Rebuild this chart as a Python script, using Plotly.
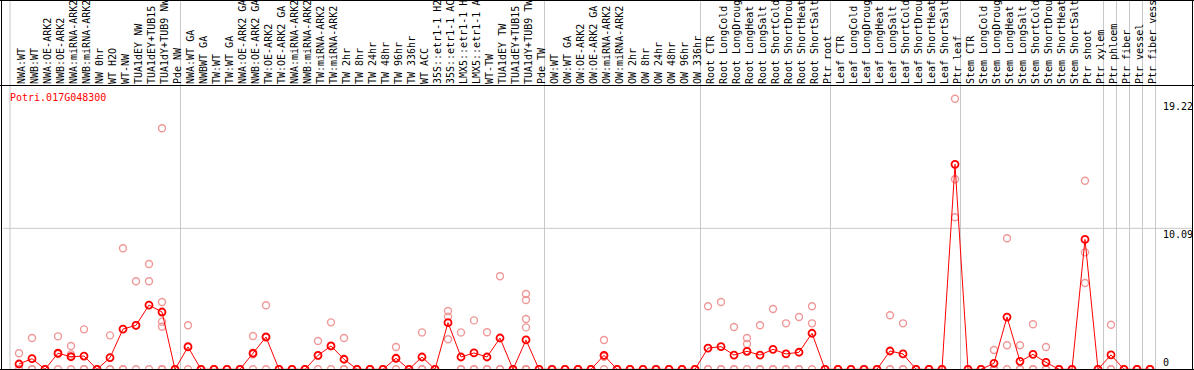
import plotly.graph_objects as go

labels = [
    "NWA:WT", "NWB:WT", "NWA:OE-ARK2", "NWB:OE-ARK2", "NWA:miRNA-ARK2", "NWB:miRNA-ARK2",
    "NW 0hr", "WT H2O", "WT-NW", "TUA1dEY NW", "TUA1dEY+TUB15 NW", "TUA1dY+TUB9 NW", "Pde NW",
    "NWA:WT GA", "NWBWT GA", "TW:WT", "TW:WT GA", "NWA:OE-ARK2 GA", "NWB:OE-ARK2 GA",
    "TW:OE-ARK2", "TW:OE-ARK2 GA", "NWA:miRNA-ARK2", "NWB:miRNA-ARK2", "TW:miRNA-ARK2",
    "TW:miRNA-ARK2", "TW 2hr", "TW 8hr", "TW 24hr", "TW 48hr", "TW 96hr", "TW 336hr",
    "WT ACC", "35S::etr1-1 H2O", "35S::etr1-1 ACC", "LMX5::etr1-1 H2O", "LMX5::etr1-1 ACC",
    "WT-TW", "TUA1dEY TW", "TUA1dEY+TUB15 TW", "TUA1dY+TUB9 TW", "Pde TW",
    "OW:WT", "OW:WT GA", "OW:OE-ARK2", "OW:OE-ARK2 GA", "OW:miRNA-ARK2", "OW:miRNA-ARK2",
    "OW 2hr", "OW 8hr", "OW 24hr", "OW 48hr", "OW 96hr", "OW 336hr",
    "Root CTR", "Root LongCold", "Root LongDrought", "Root LongHeat", "Root LongSalt",
    "Root ShortCold", "Root ShortDrought", "Root ShortHeat", "Root ShortSalt", "Ptr root",
    "Leaf CTR", "Leaf LongCold", "Leaf LongDrought", "Leaf LongHeat", "Leaf LongSalt",
    "Leaf ShortCold", "Leaf ShortDrought", "Leaf ShortHeat", "Leaf ShortSalt", "Ptr leaf",
    "Stem CTR", "Stem LongCold", "Stem LongDrought", "Stem LongHeat", "Stem LongSalt",
    "Stem ShortCold", "Stem ShortDrought", "Stem ShortHeat", "Stem ShortSalt", "Ptr shoot",
    "Ptr xylem", "Ptr phloem", "Ptr fiber", "Ptr vessel", "Ptr fiber vessel",
]

mean_values = [
    0.38, 0.76, 0, 1.15, 0.90, 0.95, 0, 0.83, 2.88, 3.15, 4.60, 4.10, 0,
    1.60, 0, 0, 0, 0, 1.15, 2.31, 0, 0, 0, 1.00, 1.67, 0.72, 0, 0, 0, 0.79, 0,
    0.88, 0, 3.34, 0.88, 1.17, 0.88, 2.24, 0, 2.10, 0,
    0, 0, 0, 0, 1.00, 0, 0, 0, 0, 0, 0, 0,
    1.52, 1.62, 1.02, 1.29, 1.02, 1.43, 1.10, 1.22, 2.58, 0,
    0, 0, 0, 0, 1.31, 1.10, 0, 0, 0, 14.67,
    0, 0, 0.43, 3.74, 0.57, 1.07, 0.50, 0, 0, 9.30,
    0, 1.03, 0, 0, 0,
]

replicates = [
    [1.15, 0, 0], [2.24, 0, 0], [0, 0, 0], [2.36, 1.09, 0], [1.67, 1.07, 0], [2.86, 0, 0],
    [0, 0, 0], [2.43, 0, 0], [8.66, 0, 0], [6.30, 3.15, 0], [7.54, 6.30, 0],
    [17.25, 4.82, 3.41, 3.05, 0, 0, 0], [0, 0, 0],
    [3.15, 1.65, 0], [0, 0, 0], [0, 0, 0], [0, 0, 0], [0, 0, 0], [2.38, 1.07, 0],
    [4.58, 2.35, 0], [0, 0, 0], [0, 0, 0], [0, 0, 0], [2.03, 0.97, 0], [3.36, 1.65, 0],
    [2.24, 0, 0], [0, 0, 0], [0, 0, 0], [0, 0, 0], [1.60, 0.77, 0], [0, 0, 0],
    [2.64, 0, 0], [0, 0, 0], [4.17, 3.77, 2.15], [2.64, 0, 0], [3.50, 0, 0],
    [2.65, 0, 0], [6.66, 0, 0], [0, 0, 0], [5.39, 4.96, 3.60, 3.00, 0, 0, 0, 0], [0, 0, 0],
    [0, 0, 0], [0, 0, 0], [0, 0, 0], [0, 0, 0], [2.10, 0.90, 0], [0, 0, 0],
    [0, 0, 0], [0, 0, 0], [0, 0, 0], [0, 0, 0], [0, 0, 0], [0, 0, 0],
    [4.51, 0, 0], [4.82, 0, 0], [3.03, 0, 0], [2.24, 1.81, 0], [3.15, 0, 0],
    [4.32, 0, 0], [3.29, 0, 0], [3.74, 0, 0], [4.51, 3.29, 0], [0, 0, 0],
    [0, 0, 0], [0, 0, 0], [0, 0, 0], [0, 0, 0], [3.87, 0, 0], [3.29, 0, 0],
    [0, 0, 0], [0, 0, 0], [0, 0, 0], [19.37, 13.60, 10.88],
    [0, 0, 0], [0, 0, 0], [1.38, 0, 0], [9.38, 1.72, 0], [1.72, 0, 0], [3.22, 0, 0],
    [1.60, 0, 0], [0, 0, 0], [0, 0, 0], [13.50, 8.37, 6.18],
    [0, 0, 0], [3.19, 0, 0], [0, 0, 0], [0, 0, 0], [0, 0, 0],
]

# index of the last column of each separated block
block_ends = [12, 40, 52, 62, 72, 83, 84, 85, 86, 87]
y_ticks = [19.22, 10.09, 0]
y_tick_text = ["19.22", "10.09", "0"]
gene_id = "Potri.017G048300"

W, H = 1194, 370
TOP = 85
X0_PX, DX_PX = 19.0, 13.0
ZERO_PX, PX_PER_UNIT = 369.3, 13.97
LABEL_SHIFT = 2.5 / DX_PX  # visual centring of rotated glyphs

xmin = -X0_PX / DX_PX
xmax = (W - X0_PX) / DX_PX
ymax = (ZERO_PX - TOP) / PX_PER_UNIT
ymin = -(H - ZERO_PX) / PX_PER_UNIT

FONT = "DejaVu Sans Mono"
RED = "#FF0000"
PALE = "#F09898"
GRAY = "#C8C8C8"


def px_x(p):
    return p / W


def px_y(p):
    return (H - p) / (H - TOP)


rep_x = [i for i, reps in enumerate(replicates) for _ in reps]
rep_y = [v for reps in replicates for v in reps]
xs = list(range(len(labels)))

fig = go.Figure()
fig.add_trace(go.Scatter(
    x=rep_x, y=rep_y, mode="markers",
    marker=dict(symbol="circle-open", size=7, color=PALE, line=dict(width=1.4, color=PALE)),
    hoverinfo="skip", showlegend=False,
))
fig.add_trace(go.Scatter(
    x=xs, y=mean_values, mode="lines+markers",
    line=dict(color=RED, width=1),
    marker=dict(symbol="circle-open", size=7, color=RED, line=dict(width=1.8, color=RED)),
    showlegend=False,
))

shapes = []
top_paper = px_y(0)
# block separators
sep_px = [X0_PX - 9]
for e in block_ends:
    sep_px.append(X0_PX + DX_PX * e + 5.5)
for p in sep_px:
    shapes.append(dict(type="line", xref="paper", yref="paper", x0=px_x(p), x1=px_x(p),
                       y0=0, y1=top_paper, line=dict(color=GRAY, width=1), layer="below"))
# horizontal grid at middle tick
shapes.append(dict(type="line", xref="paper", yref="y", x0=px_x(3), x1=px_x(1192),
                   y0=y_ticks[1], y1=y_ticks[1], line=dict(color=GRAY, width=1), layer="below"))
# black frame
black = dict(color="black", width=1)
shapes += [
    dict(type="line", xref="paper", yref="paper", x0=0, x1=1, y0=px_y(0.5), y1=px_y(0.5), line=black),
    dict(type="line", xref="paper", yref="paper", x0=0, x1=1, y0=px_y(85.5), y1=px_y(85.5), line=black),
    dict(type="line", xref="paper", yref="paper", x0=0, x1=1, y0=px_y(369.5), y1=px_y(369.5), line=black),
    dict(type="line", xref="paper", yref="paper", x0=px_x(1.5), x1=px_x(1.5), y0=0, y1=top_paper, line=black),
    dict(type="line", xref="paper", yref="paper", x0=px_x(1192.5), x1=px_x(1192.5), y0=0, y1=top_paper, line=black),
]

annotations = [dict(
    text=gene_id, xref="paper", yref="paper", x=px_x(9), y=px_y(97),
    xanchor="left", yanchor="middle", showarrow=False, borderpad=0,
    font=dict(family=FONT, size=10, color=RED),
)]
for v, t in zip(y_ticks, y_tick_text):
    line_px = ZERO_PX - v * PX_PER_UNIT
    center = line_px + 6 if v > 0 else line_px - 6.5
    annotations.append(dict(
        text=t, xref="paper", yref="paper", x=px_x(1162), y=px_y(center),
        xanchor="left", yanchor="middle", showarrow=False, borderpad=0,
        font=dict(family=FONT, size=10, color="black"),
    ))

fig.update_layout(
    template="none",
    width=W, height=H,
    margin=dict(l=0, r=0, t=TOP, b=0, pad=0),
    paper_bgcolor="white", plot_bgcolor="white",
    showlegend=False,
    shapes=shapes,
    annotations=annotations,
    xaxis=dict(
        range=[xmin, xmax], side="top", tickmode="array",
        tickvals=[i + LABEL_SHIFT for i in xs], ticktext=labels,
        tickangle=-90, tickfont=dict(family=FONT, size=10, color="black"),
        showgrid=False, zeroline=False, showline=False, ticks="", automargin=False,
        fixedrange=True,
    ),
    yaxis=dict(
        range=[ymin, ymax], showticklabels=False, showgrid=False, zeroline=False,
        showline=False, ticks="", automargin=False, fixedrange=True,
    ),
)

fig.write_html(
    "out.html",
    config={"displayModeBar": False},
    post_script="document.body.style.margin='0';document.body.style.overflow='hidden';",
)
